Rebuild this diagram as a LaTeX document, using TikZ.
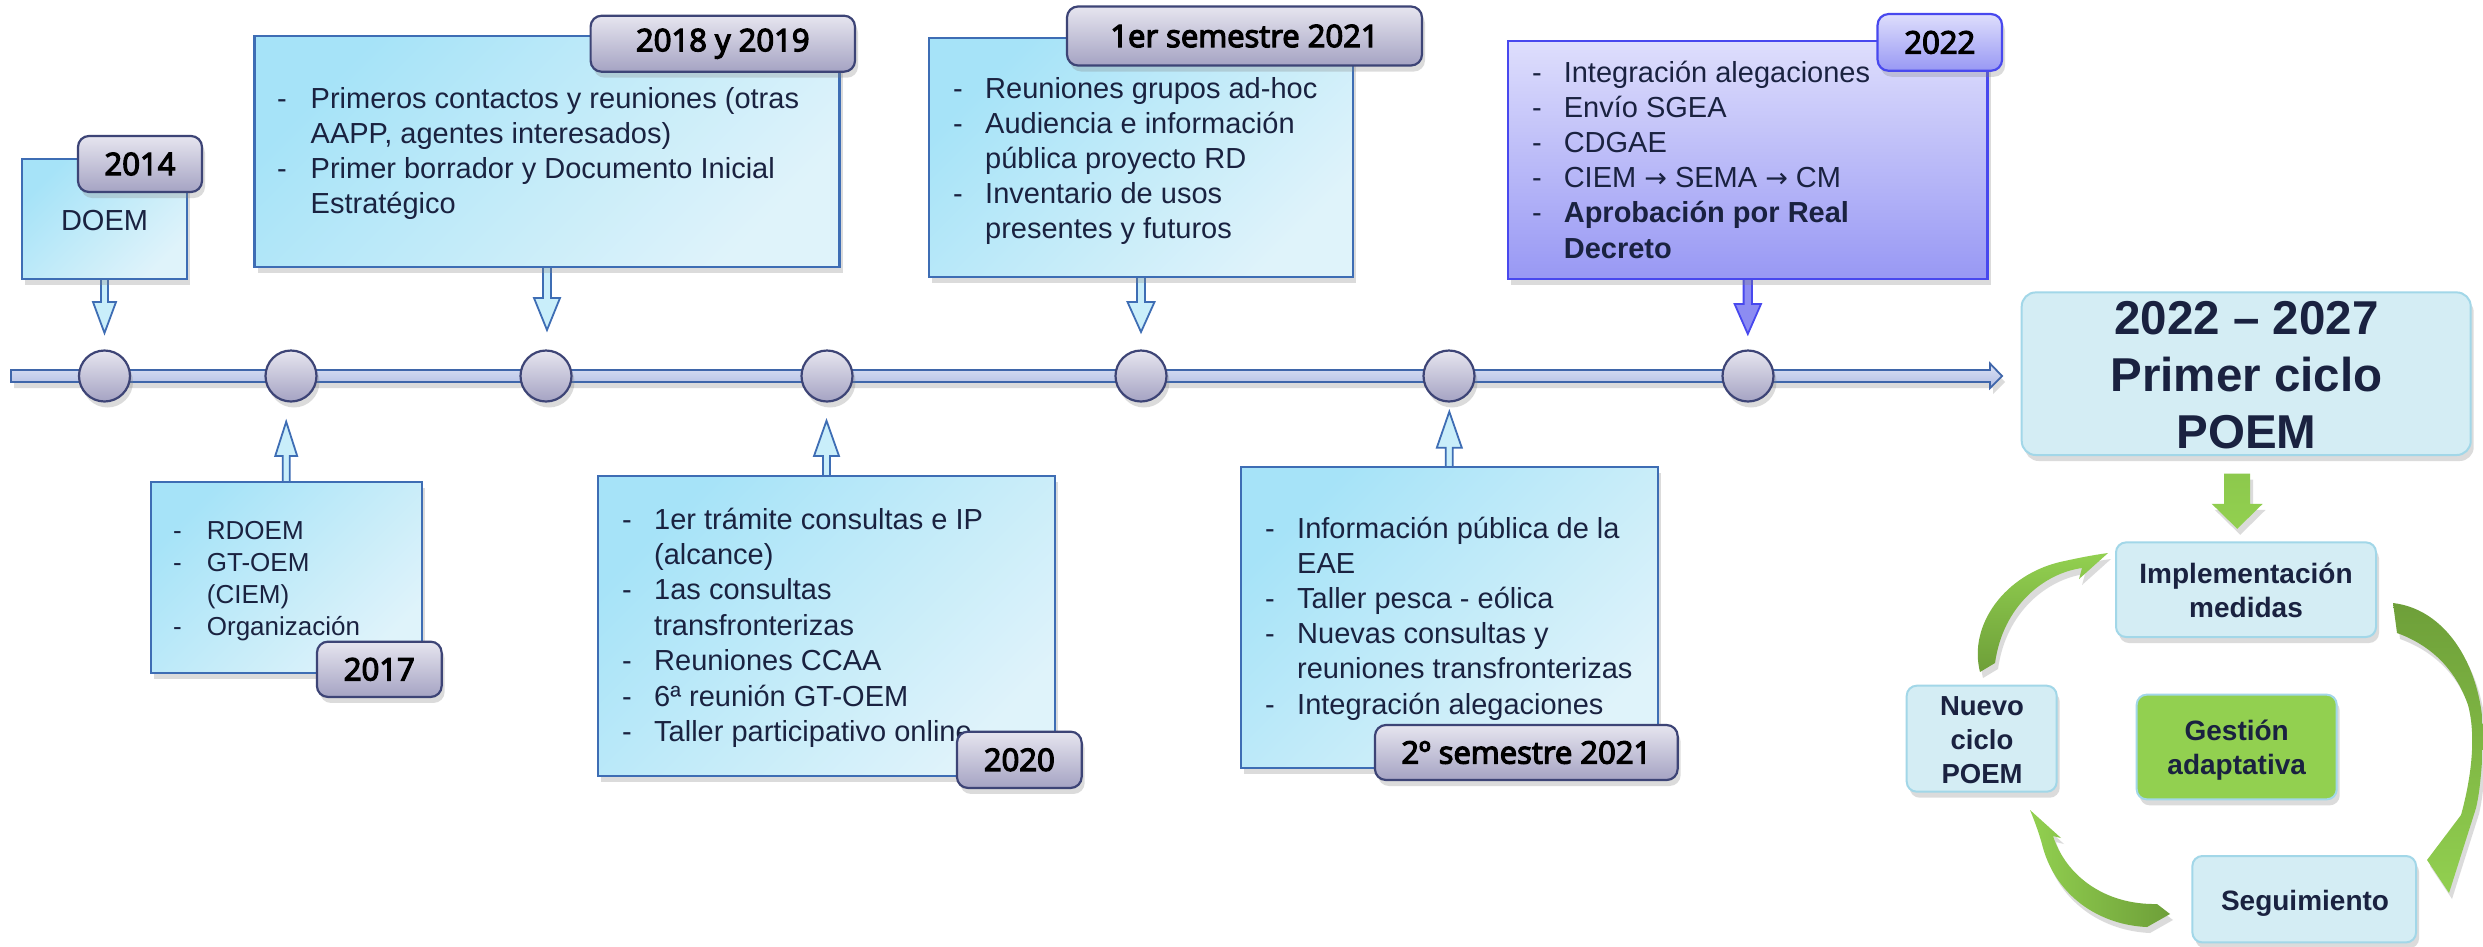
\documentclass[tikz,border=0pt]{standalone}
\usepackage{fontspec}
\setmainfont{Liberation Sans}
\newfontfamily\labfont{Open Sans}[FakeBold=4]
\newfontfamily\symfont{DejaVu Sans}
\usetikzlibrary{shadows,calc}
\definecolor{navy}{HTML}{1A2240}
\definecolor{boxline}{HTML}{3E6DB4}
\definecolor{boxA}{HTML}{A6E3F8}
\definecolor{boxB}{HTML}{DFF3FA}
\definecolor{labA}{HTML}{E6E5EF}
\definecolor{labB}{HTML}{A5A3C3}
\definecolor{labline}{HTML}{3D4476}
\definecolor{purA}{HTML}{DEDEFC}
\definecolor{purB}{HTML}{9898F4}
\definecolor{purline}{HTML}{4848EE}
\definecolor{purarr}{HTML}{8C8CF2}
\definecolor{cycfill}{HTML}{D4EDF4}
\definecolor{cycline}{HTML}{A2D7E8}
\definecolor{gLight}{HTML}{92D050}
\definecolor{gDark}{HTML}{6E9F39}
\definecolor{barA}{HTML}{DDE3F5}
\definecolor{barB}{HTML}{AFBCE3}
\definecolor{barline}{HTML}{3F66AA}
\definecolor{arrfill}{HTML}{C9EEFA}
\newcommand\dlist[2]{\begin{tabular}[t]{@{}p{#1}@{}l@{}}#2\end{tabular}}
\newcommand\rarr{{\symfont\fontsize{27}{30}\selectfont →}}
\newcommand\blockarrow[7]{%
\draw[#1] ($#2+(-#5,0)$) -- ++(0,{(#3)*#4}) -- ++({-(#6-#5)},0) -- ++({#6},{(#3)*#7}) -- ++({#6},{-(#3)*#7}) -- ++({-(#6-#5)},0) -- ++(0,{-(#3)*#4});}
\begin{document}
\begin{tikzpicture}[x=1pt,y=-1pt,
  shad/.style={drop shadow={shadow xshift=3pt,shadow yshift=-6pt,opacity=0.28}},
  evbox/.style={draw=boxline,line width=2.2pt,top color=boxA,bottom color=boxB,shading angle=45,shad,inner sep=0},
  purbox/.style={draw=purline,line width=2.2pt,top color=purA,bottom color=purB,shad,inner sep=0},
  tag/.style={draw=labline,line width=2.2pt,rounded corners=11pt,top color=labA,bottom color=labB,shad,inner sep=0,font=\labfont\fontsize{31}{36}\selectfont,text=black},
  purtag/.style={tag,draw=purline,top color=purA,bottom color=purB},
  dot/.style={circle,minimum size=51pt,inner sep=0,draw=labline,line width=2.2pt,top color=labA,bottom color=labB,shad},
  txt/.style={anchor=base west,inner sep=0,text=navy,font=\fontsize{29}{35.2}\selectfont},
  blk/.style={draw=boxline,line width=1.8pt,fill=arrfill,line join=miter},
  purblk/.style={draw=purline,line width=1.8pt,fill=purarr,line join=miter},
  cyc/.style={draw=cycline,line width=2pt,fill=cycfill,rounded corners=10pt,shad,inner sep=0},
  cyctxt/.style={anchor=base,inner sep=0,text=navy,font=\bfseries\fontsize{28}{33.5}\selectfont},
  garrow/.style={shad}
]
\fill[white] (0,0) rectangle (2483,946);
\useasboundingbox (0,0) rectangle (2483,946);

% timeline bar
\coordinate (tl0) at (11,376);
\coordinate (tl1) at (2002,376);
\draw[draw=barline,line width=1.8pt,top color=barA,bottom color=barB,shad,line join=miter]
  ($(tl0)+(0,-6)$) -- ($(tl1)+(-12,-6)$) -- ++(0,-6.5) -- (tl1) -- ($(tl1)+(-12,12)$) -- ++(0,-6) -- ($(tl0)+(0,6)$) -- cycle;

% timeline dots
\node[dot] (c1) at (104.5,376) {};
\node[dot] (c2) at (291,376) {};
\node[dot] (c3) at (546,376) {};
\node[dot] (c4) at (827,376) {};
\node[dot] (c5) at (1141,376) {};
\node[dot] (c6) at (1449,376) {};
\node[dot] (c7) at (1748,376) {};

% box centres
\path (104.5,219) coordinate (p14) (547,151.2) coordinate (p18) (1141,157.5) coordinate (p21a)
      (1747.8,160) coordinate (p22) (286.2,577.2) coordinate (p17) (826.5,625.9) coordinate (p20)
      (1449.3,617.3) coordinate (p21b);

\blockarrow{blk}{($(p14)+(0,60)$)}{1}{23}{3.5}{11.5}{31}
\blockarrow{blk}{($(p18)+(0,115.5)$)}{1}{31.3}{4}{13}{32}
\blockarrow{blk}{($(p21a)+(0,119.5)$)}{1}{25}{4}{13.5}{30}
\blockarrow{purblk}{($(p22)+(0,119)$)}{1}{25}{4.2}{13.2}{30}
\blockarrow{blk}{($(p17)+(0,-95.5)$)}{-1}{25.7}{3.5}{11}{34.3}
\blockarrow{blk}{($(p20)+(0,-150.2)$)}{-1}{19.7}{3.5}{12.5}{35.3}
\blockarrow{blk}{($(p21b)+(0,-150.3)$)}{-1}{19.3}{3.5}{12.5}{36}

\node[evbox,minimum width=165pt,minimum height=120pt] (B14) at (p14) {};
\node[evbox,minimum width=585pt,minimum height=231pt] (B18) at (p18) {};
\node[evbox,minimum width=424pt,minimum height=239pt] (B21a) at (p21a) {};
\node[purbox,minimum width=479.5pt,minimum height=238pt] (B22) at (p22) {};
\node[evbox,minimum width=271pt,minimum height=191pt] (B17) at (p17) {};
\node[evbox,minimum width=457pt,minimum height=300.3pt] (B20) at (p20) {};
\node[evbox,minimum width=416.7pt,minimum height=300.7pt] (B21b) at (p21b) {};

% texts
\node[txt,anchor=base] (T14) at (104.5,230) {DOEM};
\node[txt] (T18) at (277,108) {\dlist{33.5pt}{- & Primeros contactos y reuniones (otras\\ & AAPP, agentes interesados)\\ - & Primer borrador y Documento Inicial\\ & Estratégico}};
\node[txt] (T21a) at (953,98) {\dlist{32pt}{- & Reuniones grupos ad-hoc\\ - & Audiencia e información\\ & pública proyecto RD\\ - & Inventario de usos\\ & presentes y futuros}};
\node[txt] (T22) at (1532,82) {\dlist{31.6pt}{- & Integración alegaciones\\ - & Envío SGEA\\ - & CDGAE\\ - & CIEM \rarr{} SEMA \rarr{} CM\\ - & \textbf{Aprobación por Real}\\ & \textbf{Decreto}}};
\node[txt,font=\fontsize{26}{32}\selectfont] (T17) at (173,539) {\dlist{33.7pt}{- & RDOEM\\ - & GT-OEM\\ & (CIEM)\\ - & Organización}};
\node[txt,font=\fontsize{29}{35.45}\selectfont] (T20) at (622,529) {\dlist{32pt}{- & 1er trámite consultas e IP\\ & (alcance)\\ - & 1as consultas\\ & transfronterizas\\ - & Reuniones CCAA\\ - & 6ª reunión GT-OEM\\ - & Taller participativo online}};
\node[txt] (T21b) at (1265,538) {\dlist{32pt}{- & Información pública de la\\ & EAE\\ - & Taller pesca - eólica\\ - & Nuevas consultas y\\ & reuniones transfronterizas\\ - & Integración alegaciones}};

% year tags
\node[tag,minimum width=124pt,minimum height=56pt] (L14) at (140,164) {2014};
\node[tag,minimum width=264.4pt,minimum height=56pt] (L18) at (722.8,43.7) {2018 y 2019};
\node[tag,minimum width=355pt,minimum height=59pt] (L21a) at (1244.5,36) {1er semestre 2021};
\node[purtag,minimum width=124.5pt,minimum height=56.7pt] (L22) at (1939.8,42.4) {2022};
\node[tag,minimum width=124.7pt,minimum height=55.3pt] (L17) at (379.3,669.3) {2017};
\node[tag,minimum width=124.7pt,minimum height=56.3pt] (L20) at (1019.3,759.8) {2020};
\node[tag,minimum width=302.7pt,minimum height=55pt] (L21b) at (1526.3,752.5) {2º semestre 2021};

% right part
\node[cyc,rounded corners=14pt,minimum width=449pt,minimum height=162.6pt] (BIG) at (2246.2,373.7) {};
\node[anchor=base,inner sep=0,text=navy,font=\bfseries\fontsize{47.5}{56.7}\selectfont] (BIGt) at (2246.5,334.6)
  {\begin{tabular}[t]{@{}c@{}}2022 – 2027\\Primer ciclo\\POEM\end{tabular}};

\coordinate (ga0) at ($(BIG.south)+(-9,17.6)$);
\blockarrow{top color=gLight!85!gDark,bottom color=gLight,draw=none,shad}{(ga0)}{1}{30.2}{13}{25.5}{25}

\node[cyc,minimum width=260pt,minimum height=94.6pt] (IMP) at (2246,589.7) {};
\node[cyc,fill=gLight,draw=cycline,minimum width=200pt,minimum height=104.7pt] (GES) at (2236.7,747) {};
\node[cyc,minimum width=223.7pt,minimum height=86.4pt] (SEG) at (2304.2,899.2) {};
\node[cyc,minimum width=150pt,minimum height=106pt] (NUE) at (1981.7,738.7) {};

\node[cyctxt] (IMPt) at (2246,583.8) {\begin{tabular}[t]{@{}c@{}}Implementación\\medidas\end{tabular}};
\node[cyctxt] (GESt) at (2236.7,740.7) {\begin{tabular}[t]{@{}c@{}}Gestión\\adaptativa\end{tabular}};
\node[cyctxt] (SEGt) at (2305,910) {Seguimiento};
\node[cyctxt,font=\bfseries\fontsize{27.5}{34.2}\selectfont] (NUEt) at (1982,715) {\begin{tabular}[t]{@{}c@{}}Nuevo\\ciclo\\POEM\end{tabular}};

% curved cycle arrows
\path[garrow,top color=gDark,bottom color=gLight]
  (2393,603) .. controls (2452,610) and (2486,678) .. (2483,745)
  .. controls (2481,780) and (2479,795) .. (2476,808)
  -- (2449,893) -- (2427,860) -- (2461,815)
  .. controls (2472,775) and (2476,735) .. (2468,705)
  .. controls (2455,668) and (2430,645) .. (2397,633) -- cycle;
\path[garrow,left color=gLight,right color=gDark]
  (2170,914) -- (2147,927)
  .. controls (2100,925) and (2057,897) .. (2043,848)
  .. controls (2040,836) and (2035,822) .. (2030,810)
  -- (2061,838) -- (2053,836)
  .. controls (2066,876) and (2105,905) .. (2157,904) -- cycle;
\path[garrow,top color=gLight,bottom color=gDark]
  (1980,672) .. controls (1968,625) and (2005,575) .. (2060,562)
  .. controls (2078,558) and (2093,555) .. (2108,553)
  -- (2079,579) -- (2082,568)
  .. controls (2045,573) and (2003,605) .. (1995,663) -- cycle;
\end{tikzpicture}
\end{document}
